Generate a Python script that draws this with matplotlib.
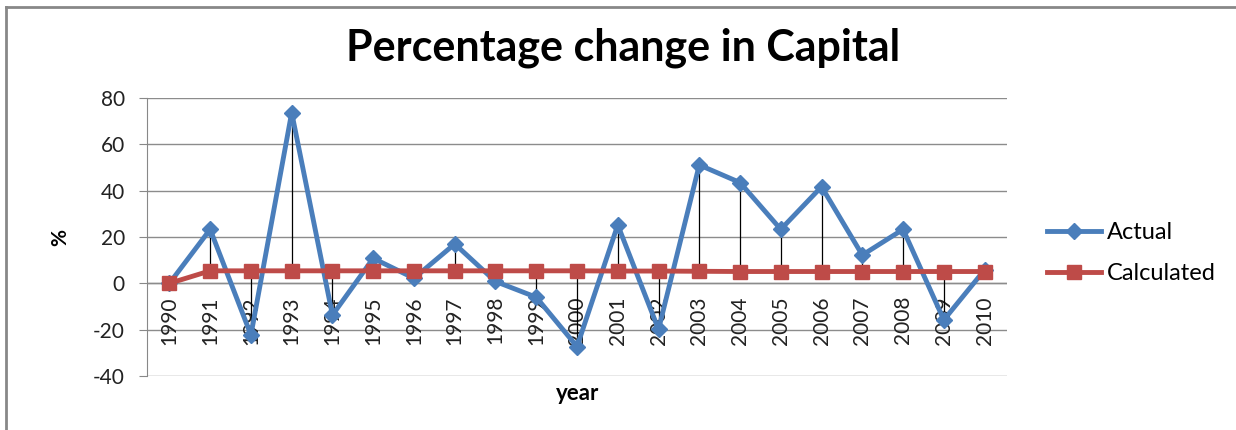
import numpy as np
import matplotlib
matplotlib.use('Agg')
import matplotlib.pyplot as plt
from matplotlib.lines import Line2D

# --- データ ---------------------------------------------------------------
years = [str(y) for y in range(1990, 2011)]
actual = [0, 23.3, -22.3, 73.7, -13.7, 10.8, 2.2, 17.0, 0.8, -6.0, -27.3,
          25.2, -19.9, 51.1, 43.5, 23.3, 41.7, 12.2, 23.3, -15.8, 5.8]
calculated = [0, 5.4, 5.4, 5.4, 5.4, 5.4, 5.4, 5.4, 5.4, 5.4, 5.4,
              5.3, 5.3, 5.2, 5.1, 5.1, 5.1, 5.1, 5.1, 5.1, 5.1]
yticks = [-40, -20, 0, 20, 40, 60, 80]

plt.rcParams['font.family'] = ['Lato', 'DejaVu Sans']
plt.rcParams['axes.unicode_minus'] = False

fig = plt.figure(figsize=(12.36, 4.30), dpi=100)
ax = fig.add_axes([147 / 1236, 54 / 430, 860 / 1236, 278 / 430])

x = np.arange(len(years))

# high-low lines
ax.vlines(x, calculated, actual, colors='black', linewidth=0.9, zorder=3)

ax.plot(x, actual, color='#4A7EBB', linewidth=3.5, marker='D', markersize=8,
        label='Actual', zorder=4)
ax.plot(x, calculated, color='#BE4B48', linewidth=3.5, marker='s', markersize=10,
        label='Calculated', zorder=5)

ax.set_xlim(-0.55, len(years) - 0.45)
ax.set_ylim(-40, 80)
ax.set_yticks(yticks)
ax.tick_params(axis='y', labelsize=15, length=6, color='#888888', pad=10,
               labelcolor='#222222')
ax.set_xticks([])
ax.grid(axis='y', color='#8c8c8c', linewidth=1)
ax.set_axisbelow(True)
for s in ['top', 'right', 'bottom']:
    ax.spines[s].set_visible(False)
ax.spines['left'].set_color('#888888')
ax.axhline(0, color='#8c8c8c', linewidth=1, zorder=1)

# category labels along the zero line
for xi, lab in zip(x, years):
    ax.text(xi, -5.5, lab, rotation=90, ha='center', va='top', fontsize=15,
            color='#222222', zorder=2)

ax.set_ylabel('%', fontsize=15, fontweight='bold', labelpad=16)
fig.text(578 / 1236, 1 - 393 / 430, 'year', ha='center', va='center',
         fontsize=16, fontweight='bold')
fig.text(623 / 1236, 1 - 48 / 430, 'Percentage change in Capital', ha='center',
         va='center', fontsize=31, fontweight='bold')

handles = [
    Line2D([], [], color='#4A7EBB', linewidth=3.5, marker='D', markersize=8),
    Line2D([], [], color='#BE4B48', linewidth=3.5, marker='s', markersize=10),
]
fig.legend(handles, ['Actual', 'Calculated'], loc='center left',
           bbox_to_anchor=(1047 / 1236, 1 - 253 / 430), frameon=False,
           fontsize=17, handlelength=2.3, handletextpad=0.25, labelspacing=0.85,
           borderpad=0, borderaxespad=0)

# chart area frame
fig.add_artist(Line2D([6 / 1236, 1], [1 - 7 / 430, 1 - 7 / 430], color='#888888',
                      linewidth=2, transform=fig.transFigure))
fig.add_artist(Line2D([6 / 1236, 6 / 1236], [0, 1 - 7 / 430], color='#888888',
                      linewidth=2, transform=fig.transFigure))

fig.savefig('out.png', dpi=100)
